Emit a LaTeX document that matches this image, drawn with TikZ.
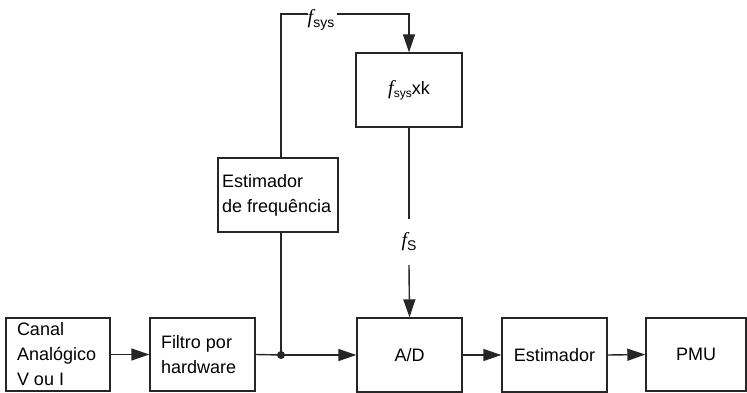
\documentclass[tikz,border=0pt]{standalone}
\usepackage{fontspec}
\setmainfont{Liberation Sans}
\newfontfamily\serifit{Liberation Serif}
\usetikzlibrary{arrows.meta}
\newcommand{\fit}{{\fontsize{20}{20}\serifit\itshape f}}
\tikzset{
  x=1pt,y=-1pt,
  line/.style={line width=1.4pt,draw=black!85},
  arr/.style={line, -{Triangle[length=18pt,width=12pt]}},
  blk/.style={line, rectangle, inner sep=0pt, font=\fontsize{18}{25}\selectfont},
  lbl/.style={inner sep=0pt, font=\fontsize{18}{25}\selectfont},
}
\begin{document}
\begin{tikzpicture}
\useasboundingbox (0,0) rectangle (747,393);
\node[blk, minimum width=104pt, minimum height=73pt, text width=82pt, align=flush left] (canal) at (58,354.5) {Canal\\Analógico\\V ou I};
\node[blk, minimum width=105pt, minimum height=73pt, text width=83pt, align=flush left] (filtro) at (202.5,354.5) {Filtro por\\hardware};
\node[blk, minimum width=105pt, minimum height=74pt] (ad) at (409.5,355) {A/D};
\node[blk, minimum width=105pt, minimum height=74pt] (est) at (554.5,355) {Estimador};
\node[blk, minimum width=100pt, minimum height=73pt] (pmu) at (696,354.5) {PMU};
\node[blk, minimum width=106pt, minimum height=74pt] (fxk) at (409,90) {\fit\raisebox{-3pt}{\fontsize{12}{12}\selectfont sys}xk};
\node[blk, minimum width=120pt, minimum height=74pt, text width=112pt, align=flush left] (efreq) at (278,195) {Estimador\\de frequência};
\coordinate (j) at (281,355);
\coordinate (tl) at (281,14);
\coordinate (tr) at (409,14);
\coordinate (fsend) at (409,219);
\coordinate (fsstart) at (409,265);
\node[lbl] (fsys) at (321,20) {\fit\raisebox{-4pt}{\fontsize{14}{14}\selectfont sys}};
\node[lbl] (fs) at (409,242) {\fit\raisebox{-4pt}{\fontsize{14}{14}\selectfont S}};
\draw[arr] (canal.east) -- (filtro.west);
\draw[line] (filtro.east) -- (j);
\draw[arr] (j) -- (ad.west);
\draw[arr] (ad.east) -- (est.west);
\draw[arr] (est.east) -- (pmu.west);
\draw[line] (j) -- (efreq.south -| j);
\draw[line] (efreq.north -| j) -- (tl) -- (fsys.west |- tl);
\draw[arr] (fsys.east |- tr) ++(3,0) -- (tr) -- (fxk.north);
\draw[line] (fxk.south) -- (fsend);
\draw[arr] (fsstart) -- (ad.north);
\fill[black!85] (j) circle (4pt);
\end{tikzpicture}
\end{document}
